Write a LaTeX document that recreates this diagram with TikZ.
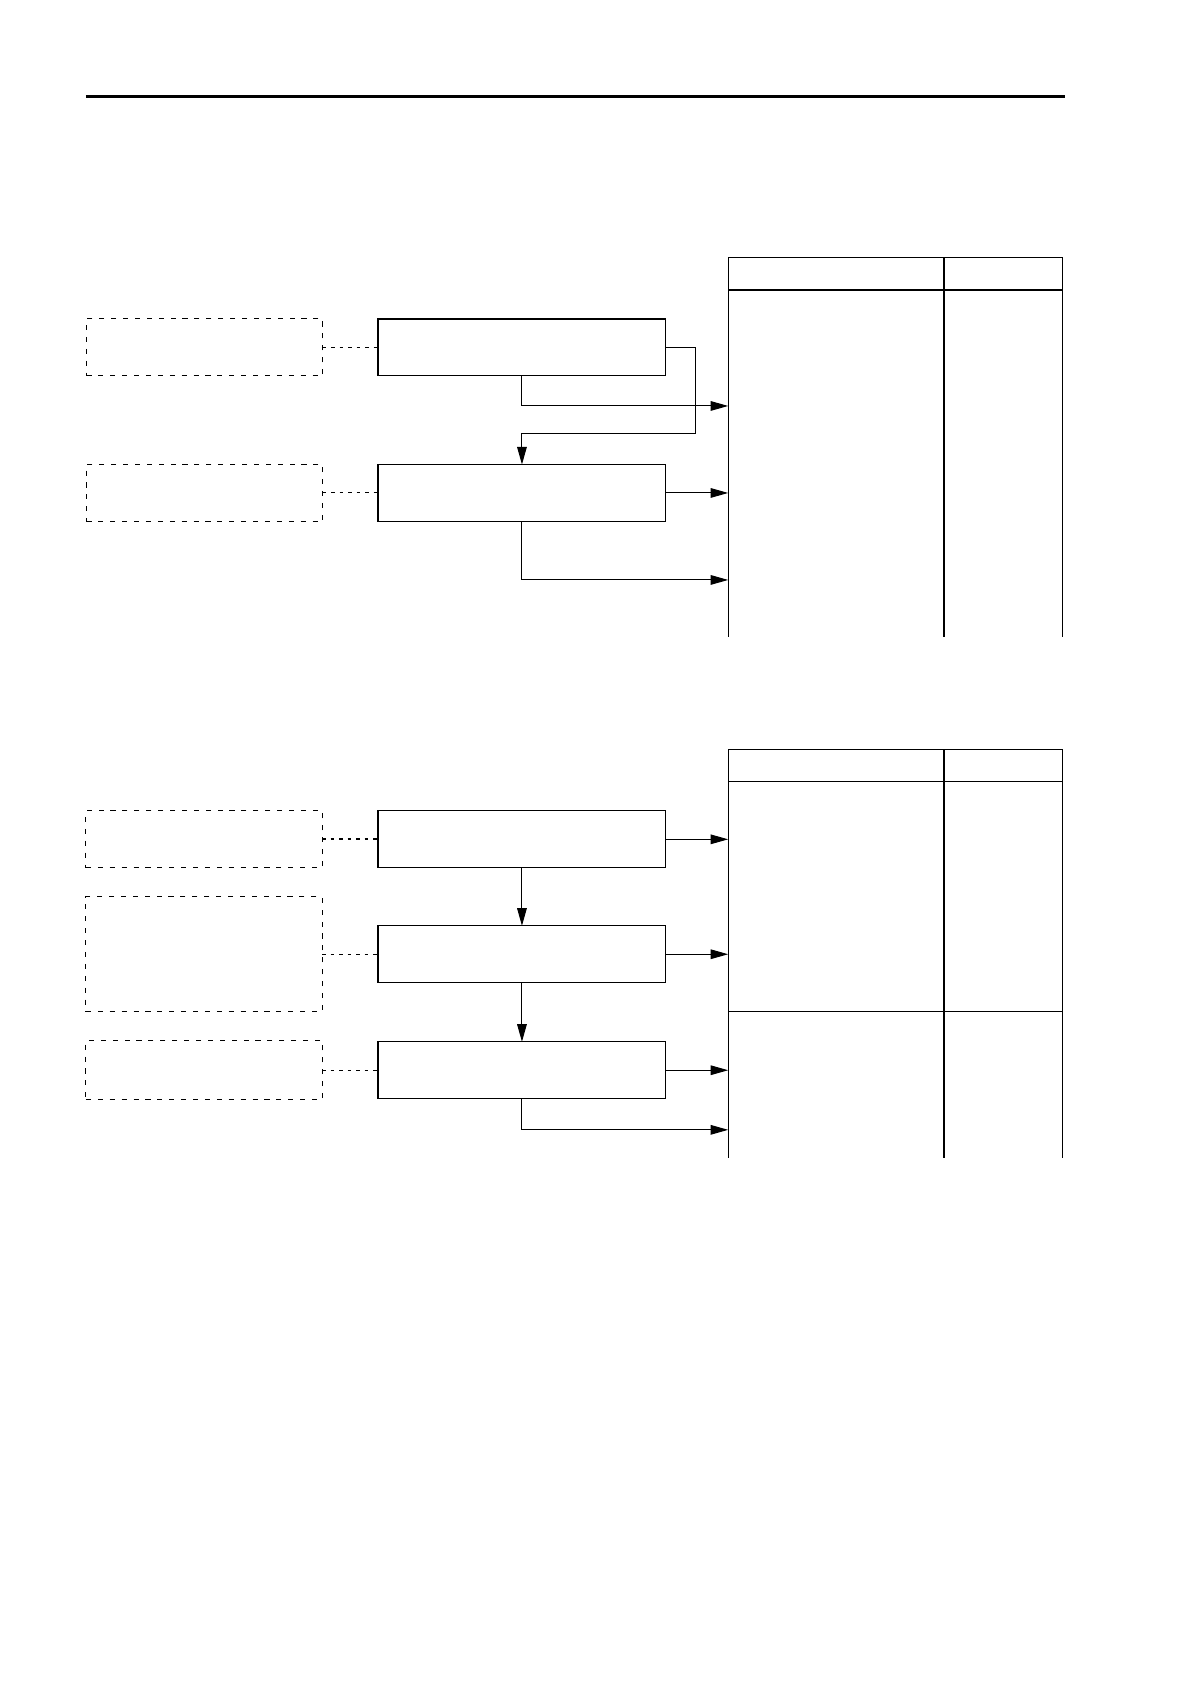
\documentclass[tikz,border=0pt]{standalone}
\usepackage{tikz}
\usetikzlibrary{arrows.meta, positioning, calc}
\newcommand{\px}{0.018953cm}

\begin{document}
\begin{tikzpicture}[
    x=\px, y=-\px,
    proc/.style={rectangle, draw=black, line width=0.6pt, minimum width=268*\px, minimum height=53*\px, inner sep=0pt, outer sep=0pt},
    note/.style={rectangle, draw=black, line width=0.5pt, dash pattern=on 0.9mm off 1.2mm, minimum width=220*\px, minimum height=53*\px, inner sep=0pt, outer sep=0pt},
    cellA/.style={rectangle, draw=black, line width=0.6pt, minimum width=201*\px, minimum height=30*\px, inner sep=0pt, outer sep=0pt},
    cellB/.style={rectangle, draw=black, line width=0.6pt, minimum width=110*\px, minimum height=30*\px, inner sep=0pt, outer sep=0pt},
    arrow/.style={-{Triangle[length=3.1mm, width=1.7mm]}, line width=0.5pt},
    link/.style={line width=0.5pt, dash pattern=on 0.6mm off 0.9mm},
    tabline/.style={line width=0.6pt},
]
\useasboundingbox (0,0) rectangle (1108,1568);

% header rule
\draw[line width=1.2pt] (80,90) -- (992,90);

% ---- upper chart ----
\node[cellA] (t1a) at (778.5,255) {};
\node[cellB] (t1b) at (934,255) {};
\coordinate (t1end) at (678,593);
\draw[tabline] (t1a.south west) -- (t1a.south west |- t1end);
\draw[tabline] (t1a.south east) -- (t1a.south east |- t1end);
\draw[tabline] (t1b.south east) -- (t1b.south east |- t1end);

\node[proc] (box1) at (486,323.5) {};
\node[proc] (box2) at (486,459) {};
\node[note] (note1) at (190.5,323.5) {};
\node[note] (note2) at (190.5,459) {};

\draw[link] (note1.east) -- (box1.west);
\draw[link] (note2.east) -- (box2.west);

\coordinate (in1) at (678,378);
\coordinate (in2) at (678,540);
\coordinate (back1) at (648,404);
\draw[arrow] (box1.south) |- (in1);
\draw[arrow] (box1.east) -| (back1) -| (box2.north);
\draw[arrow] (box2.east) -- (box2.east -| t1a.west);
\draw[arrow] (box2.south) |- (in2);

% ---- lower chart ----
\node[cellA] (t2a) at (778.5,712.5) {};
\node[cellB] (t2b) at (934,712.5) {};
\coordinate (t2end) at (678,1078);
\coordinate (t2mid) at (678,942);
\draw[tabline] (t2a.south west) -- (t2a.south west |- t2end);
\draw[tabline] (t2a.south east) -- (t2a.south east |- t2end);
\draw[tabline] (t2b.south east) -- (t2b.south east |- t2end);
\draw[tabline] (t2mid) -- (t2mid -| t2b.east);

\node[proc] (boxA) at (486,781.5) {};
\node[proc] (boxB) at (486,888.5) {};
\node[proc] (boxC) at (486,996.5) {};
\node[note] (noteA) at (190,781.5) {};
\node[note, minimum height=107*\px] (noteB) at (190,888.5) {};
\node[note, minimum height=55*\px] (noteC) at (190,996.5) {};

\draw[link, line width=1pt] (noteA.east) -- (boxA.west);
\draw[link] (noteB.east) -- (boxB.west);
\draw[link] (noteC.east) -- (boxC.west);

\draw[arrow] (boxA.south) -- (boxB.north);
\draw[arrow] (boxB.south) -- (boxC.north);

\coordinate (in3) at (678,1052);
\draw[arrow] (boxA.east) -- (boxA.east -| t2a.west);
\draw[arrow] (boxB.east) -- (boxB.east -| t2a.west);
\draw[arrow] (boxC.east) -- (boxC.east -| t2a.west);
\draw[arrow] (boxC.south) |- (in3);

\end{tikzpicture}
\end{document}
